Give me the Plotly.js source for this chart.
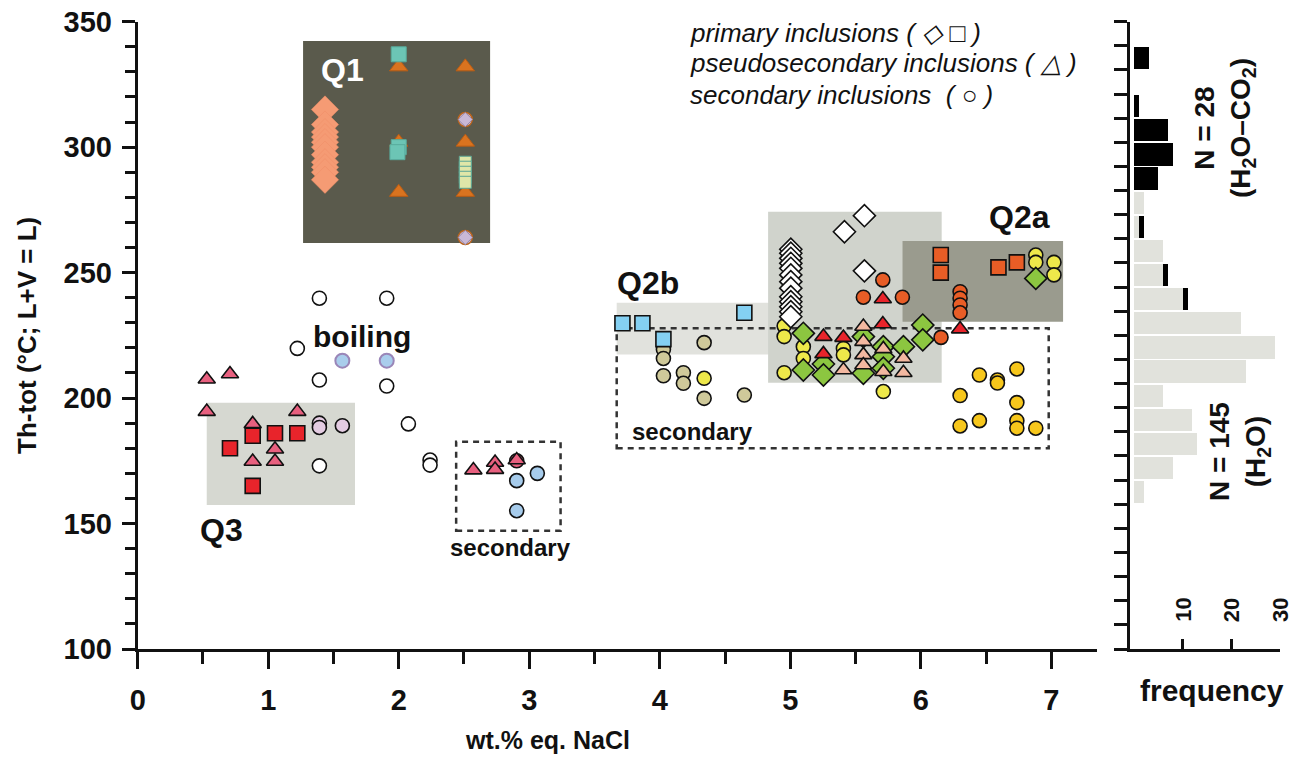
<!DOCTYPE html>
<html>
<head>
<meta charset="utf-8">
<script src="https://cdn.plot.ly/plotly-3.0.1.min.js"></script>
<style>html,body{margin:0;padding:0;background:#fff;}#chart{width:1302px;height:758px;}</style>
</head>
<body>
<div id="chart"></div>
<script>
// ---------- DATA ----------
// Q1 (H2O-CO2)
const q1DiamondX = [1.435,1.435,1.435,1.435,1.435,1.435,1.435,1.435,1.435,1.435,1.435];
const q1DiamondY = [315,309,306,304,302,300,297,294,292,290,287];
const q1SquareX = [2.0,2.0,1.99];
const q1SquareY = [337,300,298];
const q1TriangleX = [2.0,2.0,2.0,2.51,2.51,2.51];
const q1TriangleY = [332,302,282,332,302,282];
const q1LavenderX = [2.51,2.51];
const q1LavenderY = [311,264];
const q1StripedX = [2.51,2.51,2.51,2.51,2.51];
const q1StripedY = [294,292,290,288,286];
// Q3
const q3SquareX = [0.881,1.052,1.223,0.707,0.881];
const q3SquareY = [185,186,186,180,165];
const q3TriangleX = [0.529,0.707,0.529,1.223,0.881,1.052,0.881,1.052];
const q3TriangleY = [207.5,209.6,194.6,194.6,189.7,179.6,174.7,174.7];
const q3CircleX = [1.392,1.392,1.568];
const q3CircleY = [190,188.3,189];
// secondary / boiling
const openCircleX = [1.392,1.908,1.223,1.392,1.908,1.392,2.074,2.24,2.24];
const openCircleY = [239.8,239.8,219.8,207.2,204.8,173,189.7,175.3,173.3];
const boilingX = [1.568,1.908];
const boilingY = [214.9,214.9];
const secTriangleX = [2.572,2.738,2.738,2.904];
const secTriangleY = [171.3,174.3,171.5,175.3];
const secPinkCircleX = [2.904];
const secPinkCircleY = [175];
const blueCircleX = [2.904,3.062,2.904];
const blueCircleY = [167.1,170,155.1];
// Q2b and Q2
const skySquareX = [3.714,3.867,4.648,4.028];
const skySquareY = [229.8,229.8,234,223.5];
const khakiX = [4.028,4.028,4.028,4.181,4.181,4.34,4.34,4.648];
const khakiY = [219.4,215.8,208.9,210.1,205.9,222.1,199.9,201.2];
const yellowX = [4.34,4.953,4.953,4.953,5.1,5.1,5.407,5.407,5.713,6.881,6.881,7.02,7.02];
const yellowY = [207.9,228.7,224.5,210.1,220.5,215.8,219.8,217.2,202.6,257,254.1,254.1,249.1];
const whiteDiamondX = [5.568,5.415,5.568,5.004,5.004,5.004,5.004,5.004,5.004,5.004,5.004,5.004,5.004,5.004,5.004,5.004];
const whiteDiamondY = [272.7,266.3,250.7,259.3,257.7,255.7,253.7,251.7,249.1,246.4,243.8,240.4,238.4,236.4,234.4,232.4];
const orangeCircleX = [5.709,5.56,5.859,6.155,6.301,6.301,6.301,6.301];
const orangeCircleY = [247.1,240.2,240.2,224.2,242.4,239.8,237.1,234.0];
const redTriangleX = [5.709,5.709,5.254,5.407,5.254,6.301];
const redTriangleY = [239.5,229.5,224.5,224.1,217.6,227.5];
const greenDiamondX = [6.015,6.015,5.1,5.1,5.254,5.254,5.56,5.56,5.713,5.713,5.713,5.867,6.881];
const greenDiamondY = [229.1,223.2,225.8,211.2,213.6,209.2,224.5,209.9,220.5,216.5,211.9,220.5,247.7];
const salmonTriangleX = [5.56,5.56,5.56,5.56,5.407,5.713,5.713,5.867,5.867];
const salmonTriangleY = [228.5,222.5,217.2,213.2,211.2,219.6,210.5,215.8,210.1];
const orangeSquareX = [6.153,6.153,6.595,6.736];
const orangeSquareY = [257,250,252.1,254.1];
const goldX = [6.449,6.587,6.587,6.736,6.301,6.736,6.301,6.449,6.736,6.736,6.881];
const goldY = [209.2,207.2,206,211.6,201,198.2,188.9,191,191,188,188];
// Histogram (10 °C bins)
const binCenters = [345,335,325,315,305,295,285,275,265,255,245,235,225,215,205,195,185,175,165];
const h2oCounts   = [0,0,0,0,0,0,2,1,6,6,10,22,29,23,6,12,13,8,2];
const h2oco2Counts= [3,0,1,7,8,5,0,1,0,1,1,0,0,0,0,0,0,0,0];
const xTickVals = [0,1,2,3,4,5,6,7];
const freqTickVals = [10,20,30];
const freqTickText = ['10','20','30'];
const legendLines = ['primary inclusions ( \u25C7 \u25A1 )','pseudosecondary inclusions ( \u25B3 )','secondary inclusions  ( \u25CB )'];

// ---------- STYLE ----------
const F = 'Liberation Sans, Arial, Helvetica, sans-serif';
function mk(xs, ys, symbol, size, fill, lineColor, lineWidth){
  return {type:'scatter', mode:'markers', x:xs, y:ys, xaxis:'x', yaxis:'y', hoverinfo:'skip', showlegend:false,
    marker:{symbol:symbol, size:size, color:fill, line:{color:lineColor, width:lineWidth}}};
}
const K = '#111';
const traces = [
  {type:'bar', orientation:'h', y:binCenters, x:h2oCounts, width:9.2, xaxis:'x2', yaxis:'y2', marker:{color:'#e1e2dc', line:{width:0}}, showlegend:false, hoverinfo:'skip'},
  {type:'bar', orientation:'h', y:binCenters, x:h2oco2Counts, width:9.2, xaxis:'x2', yaxis:'y2', marker:{color:'#000', line:{width:0}}, showlegend:false, hoverinfo:'skip'},
  mk(q1TriangleX, q1TriangleY, 'triangle-up', 16, '#d9731f', '#b85c14', 1),
  mk(q1SquareX, q1SquareY, 'square', 15, '#6cc5b5', '#58ab9c', 1),
  mk(q1DiamondX, q1DiamondY, 'diamond', 21, '#f59b74', '#ee8d66', 0.5),
  mk(q1LavenderX, q1LavenderY, 'circle', 14, '#c9b8d6', '#b8641e', 1.5),
  mk(q1LavenderX, q1LavenderY, 'diamond', 11, '#c9b8d6', '#9a8aa8', 1),
  mk(q1StripedX, q1StripedY, 'square', 12, '#dfe6a8', '#5aa595', 1),
  mk(openCircleX, openCircleY, 'circle', 14, '#ffffff', K, 1.6),
  mk(boilingX, boilingY, 'circle', 14, '#a9cdec', '#9a86b8', 2),
  mk(q3CircleX, q3CircleY, 'circle', 14, '#e4cce2', K, 1.6),
  mk(secPinkCircleX, secPinkCircleY, 'circle', 14, '#e8607f', K, 1.6),
  mk(blueCircleX, blueCircleY, 'circle', 14, '#a6cbeb', K, 1.6),
  mk(khakiX, khakiY, 'circle', 14, '#cfc99a', K, 1.6),
  mk(yellowX, yellowY, 'circle', 14, '#eee84a', K, 1.6),
  mk(goldX, goldY, 'circle', 14, '#f7c71c', K, 1.6),
  mk(orangeCircleX, orangeCircleY, 'circle', 14, '#e85d26', K, 1.6),
  mk(whiteDiamondX, whiteDiamondY, 'diamond', 17, '#ffffff', K, 1.6),
  mk(greenDiamondX, greenDiamondY, 'diamond', 17, '#8cc640', K, 1.6),
  mk(q3TriangleX, q3TriangleY, 'triangle-up', 15, '#e8607f', K, 1.6),
  mk(secTriangleX, secTriangleY, 'triangle-up', 15, '#e8607f', K, 1.6),
  mk(redTriangleX, redTriangleY, 'triangle-up', 15, '#e8242b', K, 1.6),
  mk(salmonTriangleX, salmonTriangleY, 'triangle-up', 15, '#f3b8a0', K, 1.6),
  mk(q3SquareX, q3SquareY, 'square', 15, '#e8242b', K, 1.6),
  mk(skySquareX, skySquareY, 'square', 15, '#84d0f2', K, 1.6),
  mk(orangeSquareX, orangeSquareY, 'square', 15, '#e85d26', K, 1.6)
];

function box(x0,x1,y0,y1,color){
  return {type:'rect', xref:'x', yref:'y', x0:x0, x1:x1, y0:y0, y1:y1, fillcolor:color, line:{width:0}, layer:'below'};
}
function dbox(x0,x1,y0,y1){
  return {type:'rect', xref:'x', yref:'y', x0:x0, x1:x1, y0:y0, y1:y1, fillcolor:'rgba(0,0,0,0)', line:{color:'#333', width:2.5, dash:'6px,5px'}, layer:'below'};
}
const shapes = [
  box(1.267,2.70,261.8,342.3,'#5a5a4c'),
  box(0.529,1.665,157.4,198.1,'#d6d8d1'),
  box(3.67,4.85,217.4,238,'#e1e2dd'),
  box(4.83,6.16,206.1,274.3,'#d0d3cc'),
  box(5.86,7.09,230.4,262.6,'#9a9b8e'),
  dbox(2.44,3.24,147.1,182.6),
  dbox(3.67,6.98,180.0,227.8)
];

function lab(x,y,text,size,color){
  return {xref:'x', yref:'y', x:x, y:y, xanchor:'center', yanchor:'middle', text:text, showarrow:false, font:{family:F, size:size, color:color||'#111', weight:'bold'}};
}
function pap(px,py,text,size,extra){
  const a = {xref:'paper', yref:'paper', x:px/1302, y:1-py/758, xanchor:'center', yanchor:'middle', text:text, showarrow:false, font:{family:F, size:size, color:'#111', weight:'bold'}};
  return Object.assign(a, extra||{});
}
const legendFont = {family:F, size:26, color:'#111', style:'italic'};
const annotations = [
  lab(1.57,330.8,'Q1',32,'#ffffff'),
  lab(0.645,147.4,'Q3',32),
  lab(3.91,245.9,'Q2b',32),
  lab(6.76,272.2,'Q2a',32),
  lab(1.72,224.4,'boiling',30),
  lab(2.86,140.3,'secondary',24),
  lab(4.25,186.5,'secondary',24),
  pap(688,33,legendLines[0],26,{xanchor:'left', font:legendFont}),
  pap(688,63,legendLines[1],26,{xanchor:'left', font:legendFont}),
  pap(688,95,legendLines[2],26,{xanchor:'left', font:legendFont}),
  pap(1225,128,'N = 28<br>(H<sub>2</sub>O\u2013CO<sub>2</sub>)',28,{textangle:-90}),
  pap(1239,452,'N = 145<br>(H<sub>2</sub>O)',28,{textangle:-90}),
  pap(1212,690,'frequency',30),
  pap(547,740,'wt.% eq. NaCl',25)
];
freqTickVals.forEach(function(v,i){
  annotations.push({xref:'x2', yref:'paper', x:v, y:1-610/758, xanchor:'center', yanchor:'middle', text:freqTickText[i], textangle:-90, showarrow:false,
    font:{family:F, size:22, color:'#111', weight:'bold'}});
});

const yDom = [1-649/758, 1-21.7/758];
const layout = {
  width:1302, height:758, margin:{l:0,r:0,t:0,b:0}, paper_bgcolor:'#fff', plot_bgcolor:'rgba(0,0,0,0)',
  showlegend:false, barmode:'stack', bargap:0,
  font:{family:F, color:'#111'},
  xaxis:{domain:[137.7/1302, 1097/1302], range:[0,7.35], tickmode:'array', tickvals:xTickVals, ticks:'outside', ticklen:17, tickwidth:3, tickcolor:'#111',
    minor:{dtick:0.5, tick0:0, ticks:'outside', ticklen:12, tickwidth:3, tickcolor:'#111'},
    showline:true, linewidth:3, linecolor:'#111', showgrid:false, zeroline:false, automargin:false,
    tickfont:{family:F, size:29, color:'#111', weight:'bold'}, ticklabelstandoff:6},
  yaxis:{domain:yDom, range:[100,350], dtick:50, tick0:0, ticks:'outside', ticklen:13, tickwidth:3, tickcolor:'#111',
    minor:{dtick:10, ticks:'outside', ticklen:10, tickwidth:3, tickcolor:'#111'},
    showline:true, linewidth:3, linecolor:'#111', showgrid:false, zeroline:false, automargin:false,
    tickfont:{family:F, size:29, color:'#111', weight:'bold'}, ticklabelstandoff:4,
    title:{text:'Th-tot (°C; L+V = L)', font:{family:F, size:26, color:'#111', weight:'bold'}, standoff:20}},
  xaxis2:{domain:[1130/1302, 1280/1302], range:[-0.82,30], anchor:'y2', tickmode:'array', tickvals:freqTickVals,
    ticks:'inside', ticklen:10, tickwidth:3, tickcolor:'#111', showticklabels:false,
    showline:true, linewidth:3, linecolor:'#111', showgrid:false, zeroline:false, automargin:false},
  yaxis2:{domain:yDom, range:[100,360], anchor:'x2', tickmode:'linear', tick0:100, dtick:10, ticks:'outside', ticklen:13, tickwidth:3, tickcolor:'#111',
    showticklabels:false, showline:true, linewidth:3, linecolor:'#111', showgrid:false, zeroline:false, automargin:false},
  shapes:shapes, annotations:annotations
};
Plotly.newPlot('chart', traces, layout, {staticPlot:true, displayModeBar:false});
</script>
</body>
</html>
